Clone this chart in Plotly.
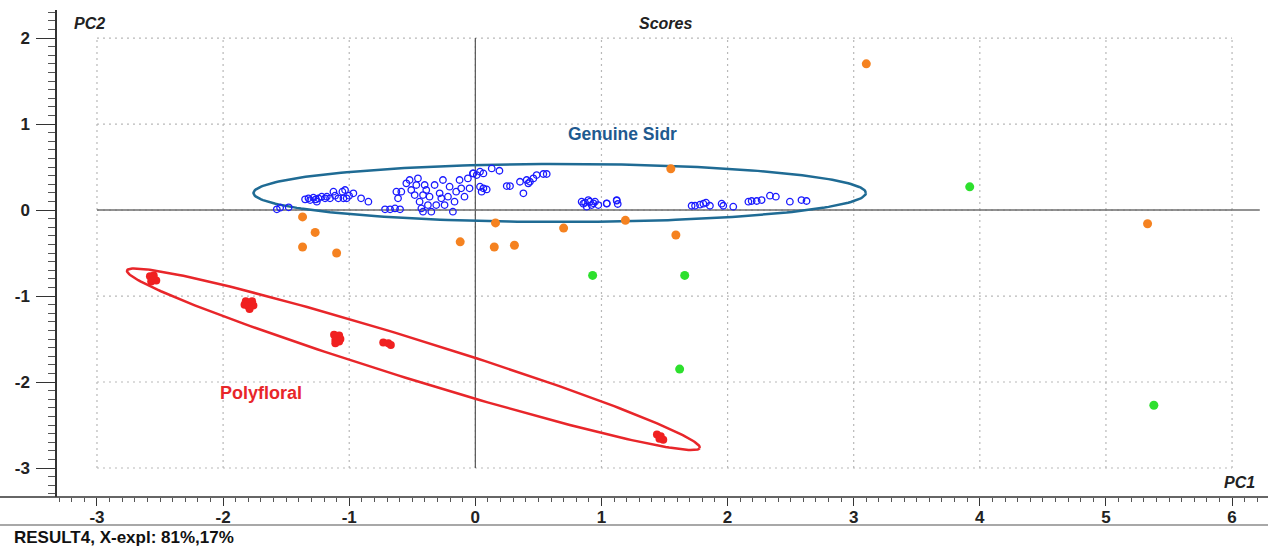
import numpy as np
import plotly.graph_objects as go

# ---- score data (PC1, PC2) ----
sidr_pc1 = [-1.574, -1.548, -1.48, -1.35, -1.323, -1.31, -1.284, -1.265, -1.244, -1.218,
            -1.191, -1.178, -1.257, -1.152, -1.125, -1.112, -1.086, -1.054, -1.046, -1.020,
            -1.001, -0.967, -1.033, -0.906, -0.848, -0.716, -0.676, -0.637, -0.597, -0.626,
            -0.587, -0.613, -0.547, -0.521, -0.508, -0.481, -0.468, -0.455, -0.442, -0.428,
            -0.415, -0.402, -0.389, -0.415, -0.376, -0.363, -0.349, -0.323, -0.310, -0.283,
            -0.270, -0.257, -0.244, -0.217, -0.204, -0.178, -0.165, -0.152, -0.125, -0.112,
            -0.086, -0.059, -0.046, -0.020, -0.016, 0.011, 0.037, 0.064, 0.130, 0.191,
            0.037, 0.064, 0.090, 0.050, 0.249, 0.275, 0.354, 0.407, 0.433, 0.460,
            0.486, 0.539, 0.566, 0.381, 0.420, 0.843, 0.870, 0.883, 0.909, 0.936,
            0.949, 0.975, 1.042, 1.121, 1.129, 1.742, 1.781, 1.808, 1.829, 1.860,
            1.953, 1.966, 2.045, 1.715, 2.165, 2.191, 2.231, 2.270, 2.336, 2.383,
            2.494, 2.586, 2.626, 0.856, 0.896, 0.922, 1.042, 1.121]
sidr_pc2 = [0.008, 0.027, 0.031, 0.124, 0.136, 0.116, 0.144, 0.124, 0.136, 0.155,
            0.136, 0.155, 0.097, 0.136, 0.213, 0.167, 0.136, 0.213, 0.136, 0.136,
            0.167, 0.194, 0.233, 0.136, 0.097, 0.008, 0.008, 0.019, 0.008, 0.213,
            0.213, 0.136, 0.310, 0.349, 0.233, 0.174, 0.291, 0.368, 0.097, 0.019,
            0.174, 0.291, 0.233, -0.019, 0.058, 0.155, -0.019, 0.291, 0.058, 0.194,
            0.136, 0.349, 0.058, 0.155, 0.271, -0.019, 0.097, 0.213, 0.349, 0.252,
            0.155, 0.368, 0.252, 0.426, 0.426, 0.407, 0.446, 0.426, 0.484, 0.457,
            0.271, 0.252, 0.240, 0.213, 0.279, 0.279, 0.329, 0.349, 0.329, 0.368,
            0.407, 0.419, 0.419, 0.194, 0.310, 0.097, 0.085, 0.039, 0.097, 0.078,
            0.097, 0.058, 0.078, 0.109, 0.070, 0.050, 0.062, 0.074, 0.085, 0.050,
            0.074, 0.050, 0.039, 0.050, 0.097, 0.105, 0.105, 0.116, 0.167, 0.155,
            0.097, 0.116, 0.105, 0.074, 0.116, 0.058, 0.074, 0.116]

poly_pc1 = [-2.58, -2.55, -2.57, -2.53, -2.55,
            -1.82, -1.77, -1.80, -1.76, -1.79, -1.83,
            -1.12, -1.08, -1.11, -1.07, -1.11, -1.08,
            -0.73, -0.69, -0.67,
            1.44, 1.47, 1.49, 1.46]
poly_pc2 = [-0.77, -0.80, -0.83, -0.82, -0.76,
            -1.06, -1.06, -1.12, -1.11, -1.15, -1.10,
            -1.45, -1.46, -1.51, -1.50, -1.55, -1.53,
            -1.54, -1.55, -1.57,
            -2.61, -2.63, -2.67, -2.66]

orange_pc1 = [3.10, 5.33, 1.55, -1.37, -1.37, -1.27, -1.10, -0.12, 0.16, 0.15, 0.31, 0.70, 1.19, 1.59]
orange_pc2 = [1.70, -0.16, 0.48, -0.08, -0.43, -0.26, -0.50, -0.37, -0.15, -0.43, -0.41, -0.21, -0.12, -0.29]

green_pc1 = [3.92, 0.93, 1.66, 1.62, 5.38]
green_pc2 = [0.27, -0.76, -0.76, -1.85, -2.27]

x_ticks = [-3, -2, -1, 0, 1, 2, 3, 4, 5, 6]
y_ticks = [-3, -2, -1, 0, 1, 2]

# ---- figure geometry ----
W, H = 1268, 547
ML, MR, MT, MB = 57, 0, 10, 50
XR = [-3.317, 6.285]
YR = [-3.337, 2.326]
PW, PH = W - ML - MR, H - MT - MB
kx = PW / (XR[1] - XR[0])  # px per PC1 unit
ky = PH / (YR[1] - YR[0])  # px per PC2 unit

FONT = "Liberation Sans, Arial, sans-serif"


def px_x(px):
    return (px - ML) / PW


def px_y(py):
    return 1 - (py - MT) / PH


def ellipse_from_axis(p1, p2, half_minor_px, n=240):
    """Ellipse whose major axis runs p1 -> p2 (data units); minor half-width in screen px."""
    u1, v1 = p1[0] * kx, p1[1] * ky
    u2, v2 = p2[0] * kx, p2[1] * ky
    cu, cv = (u1 + u2) / 2, (v1 + v2) / 2
    a = np.hypot(u2 - u1, v2 - v1) / 2
    th = np.arctan2(v2 - v1, u2 - u1)
    t = np.linspace(0, 2 * np.pi, n)
    u = a * np.cos(t)
    v = half_minor_px * np.sin(t)
    xs = (cu + u * np.cos(th) - v * np.sin(th)) / kx
    ys = (cv + u * np.sin(th) + v * np.cos(th)) / ky
    return xs, ys


fig = go.Figure()

# Class ellipses
ex, ey = ellipse_from_axis((-1.759, 0.198), (3.097, 0.198), 29)
fig.add_trace(go.Scatter(x=ex, y=ey, mode="lines", line=dict(color="#1f6b94", width=2.5),
                         hoverinfo="skip", showlegend=False))
ex, ey = ellipse_from_axis((-2.762, -0.703), (1.780, -2.767), 20)
fig.add_trace(go.Scatter(x=ex, y=ey, mode="lines", line=dict(color="#e8262a", width=2.5),
                         hoverinfo="skip", showlegend=False))

# Score markers
fig.add_trace(go.Scatter(x=sidr_pc1, y=sidr_pc2, mode="markers", name="Sidr",
                         marker=dict(symbol="circle-open", size=6.5, color="#1a1aff",
                                     line=dict(width=1.3, color="#1a1aff")),
                         showlegend=False))
fig.add_trace(go.Scatter(x=orange_pc1, y=orange_pc2, mode="markers",
                         marker=dict(symbol="circle", size=9, color="#f58220"),
                         showlegend=False))
fig.add_trace(go.Scatter(x=green_pc1, y=green_pc2, mode="markers",
                         marker=dict(symbol="circle", size=9, color="#2de02d"),
                         showlegend=False))
fig.add_trace(go.Scatter(x=poly_pc1, y=poly_pc2, mode="markers",
                         marker=dict(symbol="circle", size=8, color="#f02020"),
                         showlegend=False))

shapes = []
grid = dict(color="#b8b8b8", width=1.2, dash="2px,4px")
for xv in x_ticks:
    shapes.append(dict(type="line", xref="x", yref="y", x0=xv, x1=xv, y0=-3, y1=2,
                       line=grid, layer="below"))
for yv in y_ticks:
    shapes.append(dict(type="line", xref="x", yref="y", x0=-3, x1=6, y0=yv, y1=yv,
                       line=grid, layer="below"))
# Origin cross-hairs
shapes.append(dict(type="line", xref="x", yref="y", x0=0, x1=0, y0=-3, y1=2,
                   line=dict(color="#555555", width=1.2), layer="below"))
shapes.append(dict(type="line", xref="x", yref="y", x0=-3, x1=6.22, y0=0, y1=0,
                   line=dict(color="#6e6e6e", width=1.6), layer="below"))
# Bottom axis line running the full width, and the status-bar separator
shapes.append(dict(type="line", xref="paper", yref="paper", x0=-ML / PW, x1=1, y0=0, y1=0,
                   line=dict(color="#333333", width=1.5)))
shapes.append(dict(type="line", xref="paper", yref="paper", x0=-ML / PW, x1=1,
                   y0=px_y(525), y1=px_y(525), line=dict(color="#a8a8a8", width=2)))

lab = dict(family=FONT, size=16, color="#222222")
annotations = [
    dict(text="<b><i>PC2</i></b>", x=px_x(89), y=px_y(24)),
    dict(text="<b><i>Scores</i></b>", x=px_x(665), y=px_y(24)),
    dict(text="<b><i>PC1</i></b>", x=px_x(1239), y=px_y(482)),
]
for a in annotations:
    a.update(xref="paper", yref="paper", xanchor="center", yanchor="middle",
             showarrow=False, font=lab)
annotations += [
    dict(text="<b>RESULT4, X-expl: 81%,17%</b>", x=px_x(12), y=px_y(537),
         xref="paper", yref="paper", xanchor="left", yanchor="middle", showarrow=False,
         font=dict(family=FONT, size=17, color="#111111")),
    dict(text="<b>Genuine Sidr</b>", x=1.17, y=0.88, xref="x", yref="y", showarrow=False,
         xanchor="center", yanchor="middle",
         font=dict(family=FONT, size=17.5, color="#1f5a8f")),
    dict(text="<b>Polyfloral</b>", x=-1.70, y=-2.13, xref="x", yref="y", showarrow=False,
         xanchor="center", yanchor="middle",
         font=dict(family=FONT, size=18, color="#e8262a")),
]

tickfont = dict(family=FONT, size=17, color="#222222")

fig.update_layout(
    width=W, height=H,
    margin=dict(l=ML, r=MR, t=MT, b=MB, pad=0),
    paper_bgcolor="white", plot_bgcolor="white",
    shapes=shapes, annotations=annotations,
    font=dict(family=FONT),
    xaxis=dict(range=XR, tickmode="array", tickvals=x_ticks,
               ticktext=[f"<b>{v}</b>" for v in x_ticks],
               showgrid=False, zeroline=False, showline=False,
               ticks="outside", ticklen=8, tickwidth=1.2, tickcolor="#333333",
               tickfont=tickfont, ticklabelstandoff=-3,
               minor=dict(dtick=0.1, tick0=0, ticks="outside", ticklen=4, tickcolor="#555555",
                          showgrid=False)),
    yaxis=dict(range=YR, tickmode="array", tickvals=y_ticks,
               ticktext=[f"<b>{v}</b>" for v in y_ticks],
               showgrid=False, zeroline=False, showline=True, linecolor="#333333", linewidth=1.5,
               ticks="outside", ticklen=19, tickwidth=1.2, tickcolor="#333333",
               tickfont=tickfont, ticklabelstandoff=3,
               minor=dict(dtick=0.1, tick0=0, ticks="outside", ticklen=7, tickcolor="#555555",
                          showgrid=False)),
)

fig.write_html("out.html")
